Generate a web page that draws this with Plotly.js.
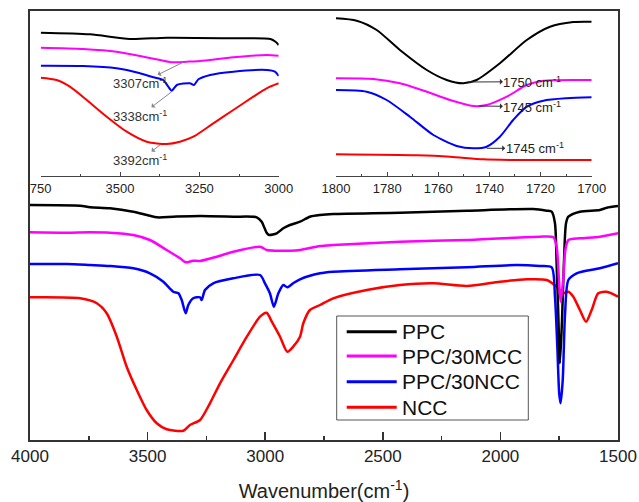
<!DOCTYPE html>
<html>
<head>
<meta charset="utf-8">
<script src="https://cdn.plot.ly/plotly-3.0.1.min.js"></script>
<style>html,body{margin:0;padding:0;background:#fff}#chart{width:639px;height:502px}</style>
</head>
<body>
<div id="chart"></div>
<script>
// ---------- Data (arbitrary transmittance units) ----------
const seriesNames = ["PPC", "PPC/30MCC", "PPC/30NCC", "NCC"];
const seriesColors = ["#000000", "#ff00ff", "#0000ff", "#ff0000"];

// Main panel, 4000-1500 cm-1
const ppcWave = [4000,3787,3745,3660,3561,3461,3391,3277,3136,3036,3015,2994,2983,2951,2923,2895,2852,2810,2767,2711,2427,2143,1860,1803,1782,1768,1761,1754,1747,1738,1730,1721,1711,1662,1577,1548,1500];
const ppcT    = [235,234.3,232.7,231.7,228.3,222.7,223.3,224,223.3,222.7,218.3,207.3,205,206.7,211.7,215,218.3,223.3,225,226,227.3,229.3,231,229.3,228.3,216.7,176.7,126.7,76.7,120,176.7,216.7,223.3,228.3,230,232.3,234];

const mccWave = [4000,3844,3745,3660,3561,3490,3419,3362,3338,3306,3277,3206,3136,3022,2994,2951,2895,2852,2767,2711,2427,2143,1832,1775,1761,1751,1744,1733,1724,1711,1662,1577,1500];
const mccT    = [207.7,207.3,207.7,207.3,205,200,190,181.7,177.7,179.3,179,183.3,188.3,193.3,190,189.3,189.3,190,194,195,198.3,200,203.3,202.7,193.3,160,138.3,160,190,200,201.7,203.3,206.7];

const nccCompWave = [4000,3844,3745,3660,3561,3490,3433,3391,3369,3355,3338,3327,3306,3277,3270,3256,3221,3136,3022,3001,2980,2963,2944,2923,2906,2881,2852,2767,2711,2427,2143,1931,1832,1782,1768,1758,1750,1744,1735,1725,1711,1676,1577,1500];
const nccCompT    = [176,176,175,174,171.7,166.7,158.3,148.3,146.7,140,126.7,135,141.7,142.7,140,150,156.7,161.7,165,156.7,146.7,133.3,146.7,155,152.7,156.7,160.7,166.7,168.3,170.7,172.7,175,174,172.7,143.3,93.3,46.7,36.7,60,126.7,160,166.7,171.7,176.7];

const nccWave = [4000,3787,3716,3674,3631,3589,3546,3504,3461,3419,3348,3320,3277,3235,3192,3135,3078,3022,2994,2972,2937,2906,2881,2852,2838,2810,2767,2711,2568,2427,2286,2143,2002,1888,1803,1761,1733,1711,1690,1662,1636,1612,1584,1548,1500];
const nccT    = [142.7,141.7,136.7,126.7,103.3,73.3,50,30,16.7,10.7,9.3,15,20,36.7,56.7,80,103.3,123.3,127.3,118.3,103.3,88.3,93.3,103.3,116.7,130,135,141.7,150,155,156.7,154,158.3,160.7,160,153.3,146.7,148.3,143.3,130,118.3,130,146.7,148.3,143.3];

// Inset 1, 3750-3000 cm-1
const in1PpcWave = [3750,3595,3469,3353,3143,3026,3010,3000];
const in1PpcT    = [143.3,141.7,137,138.3,137.7,137,134.3,131];
const in1MccWave = [3750,3616,3511,3437,3374,3337,3290,3248,3143,3038,3000];
const in1MccT    = [128.3,127,124.3,120,116,113.7,114.3,115,118.7,121,120.3];
const in1NcWave  = [3750,3616,3511,3437,3395,3364,3348,3337,3321,3280,3267,3253,3216,3143,3038,3012,3000];
const in1NcT     = [110.3,110,107.7,102.7,98.7,96,89.3,85.3,91,92.7,91,96.7,101,104.3,106,104.3,100];
const in1NccWave = [3750,3700,3658,3605,3542,3479,3416,3353,3311,3269,3206,3143,3080,3038,3000];
const in1NccT    = [98.3,96,89.3,76,59.3,44.3,34.3,32,34.3,39.3,52.7,66,79.3,87.7,92.7];
const in1TickVals = [3750,3500,3250,3000];
const in1TickText = ["750","3500","3250","3000"];

// Inset 2, 1800-1700 cm-1
const in2PpcWave = [1800,1791.9,1784.1,1775,1764.5,1756.7,1750.2,1745,1735.9,1725.4,1716.3,1707.2,1700];
const in2PpcT    = [157.7,155.3,146,126,106,96,92.7,96,112.7,136,149.3,154,154.3];
const in2MccWave = [1800,1785.4,1775,1764.5,1755.4,1746.3,1741.1,1733.2,1725.4,1718.9,1700];
const in2MccT    = [97.7,97,92.7,84.3,76,70,71,79.3,91,95.3,96];
const in2NcWave  = [1800,1788,1780.2,1771.1,1761.9,1752.8,1746.3,1741.1,1735.9,1730.7,1725.4,1718.9,1709.8,1700];
const in2NcT     = [86,84.3,76,59.3,41,30,27.7,29.3,39.3,56,69.3,75.3,77.7,78.7];
const in2NccWave = [1800,1768.4,1755.4,1742.4,1729.3,1700];
const in2NccT    = [21.7,20.7,19.3,16.7,16,16];

// Peak labels: text, point the arrow leaves from, label centre
const in1Labels = ["3307cm<sup>-1</sup>", "3338cm<sup>-1</sup>", "3392cm<sup>-1</sup>"];
const in1PeakW  = [3301, 3337, 3374];
const in1PeakT  = [113.7, 84.3, 31];
const in1LabelW = [3436, 3436, 3436];
const in1LabelT = [92.7, 60.3, 16];
const in2Labels = ["1750 cm<sup>-1</sup>", "1745 cm<sup>-1</sup>", "1745 cm<sup>-1</sup>"];
const in2PeakW  = [1748.5, 1744, 1741.1];
const in2PeakT  = [94, 70, 27.7];
const in2LabelW = [1723.2, 1723.2, 1722.3];
const in2LabelT = [94.3, 69.3, 27.7];

// ---------- Build ----------
const FONT = "Liberation Sans, Arial, sans-serif";
function tr(x, y, color, xa, ya, w) {
  return {x: x, y: y, type: "scatter", mode: "lines", xaxis: xa, yaxis: ya,
    line: {color: color, width: w, shape: "spline", smoothing: 0.7},
    showlegend: false, hoverinfo: "skip"};
}
const traces = [
  tr(nccWave, nccT, seriesColors[3], "x", "y", 2.5),
  tr(nccCompWave, nccCompT, seriesColors[2], "x", "y", 2.5),
  tr(ppcWave, ppcT, seriesColors[0], "x", "y", 2.5),
  tr(mccWave, mccT, seriesColors[1], "x", "y", 2.5),
  tr(in1PpcWave, in1PpcT, seriesColors[0], "x2", "y2", 2),
  tr(in1MccWave, in1MccT, seriesColors[1], "x2", "y2", 2),
  tr(in1NcWave, in1NcT, seriesColors[2], "x2", "y2", 2),
  tr(in1NccWave, in1NccT, seriesColors[3], "x2", "y2", 2),
  tr(in2PpcWave, in2PpcT, seriesColors[0], "x3", "y3", 2),
  tr(in2MccWave, in2MccT, seriesColors[1], "x3", "y3", 2),
  tr(in2NcWave, in2NcT, seriesColors[2], "x3", "y3", 2),
  tr(in2NccWave, in2NccT, seriesColors[3], "x3", "y3", 2)
];

// pixel helpers for decorations (plot area: x 30..618, y 11..440)
const PX = px => (px - 30) / 588;
const PY = py => (440 - py) / 429;

const annotations = [];
in1Labels.forEach((t, i) => {
  annotations.push({xref: "x2", yref: "y2", x: in1PeakW[i], y: in1PeakT[i],
    axref: "x2", ayref: "y2", ax: in1LabelW[i], ay: in1LabelT[i],
    text: t, showarrow: true, arrowside: "start", arrowhead: 2, arrowsize: 0.8, arrowwidth: 1,
    arrowcolor: "#888", standoff: 0, startstandoff: 0, borderpad: 0,
    font: {family: FONT, size: 13, color: "#333"}});
});
in2Labels.forEach((t, i) => {
  annotations.push({xref: "x3", yref: "y3", x: in2PeakW[i], y: in2PeakT[i],
    axref: "x3", ayref: "y3", ax: in2LabelW[i], ay: in2LabelT[i],
    text: t, showarrow: true, arrowside: "start", arrowhead: 2, arrowsize: 0.8, arrowwidth: 1,
    arrowcolor: "#333", standoff: 0, startstandoff: 0, borderpad: 0,
    font: {family: FONT, size: 13, color: "#222"}});
});

// manual legend
const shapes = [{type: "rect", xref: "paper", yref: "paper", x0: PX(336.7), x1: PX(528.3), y0: PY(420), y1: PY(316),
  line: {color: "#555", width: 1}, fillcolor: "#fff", layer: "above"}];
const legY = [331.7, 356, 381.7, 407.3];
seriesNames.forEach((n, i) => {
  shapes.push({type: "line", xref: "paper", yref: "paper", x0: PX(346.7), x1: PX(396.7), y0: PY(legY[i]), y1: PY(legY[i]),
    line: {color: seriesColors[i], width: 3}, layer: "above"});
  annotations.push({xref: "paper", yref: "paper", x: PX(400), y: PY(legY[i]), text: n, showarrow: false,
    xanchor: "left", yanchor: "middle", font: {family: FONT, size: 21, color: "#111"}});
});

const insetAxis = {
  showline: true, linecolor: "#444", linewidth: 1, ticks: "inside", ticklen: 4, tickwidth: 1, tickcolor: "#444",
  showgrid: false, zeroline: false, tickfont: {family: FONT, size: 13, color: "#222"}, fixedrange: true
};
const hiddenY = {range: [0, 165], visible: false, showgrid: false, zeroline: false, fixedrange: true};

const layout = {
  width: 639, height: 502,
  margin: {l: 30, r: 21, t: 11, b: 62},
  paper_bgcolor: "#ffffff", plot_bgcolor: "rgba(0,0,0,0)",
  showlegend: false,
  font: {family: FONT, color: "#222"},
  xaxis: {
    range: [4000, 1500], showline: true, mirror: true, linecolor: "#333", linewidth: 2,
    ticks: "inside", ticklen: 8, tickwidth: 1.5, tickcolor: "#333", tick0: 1500, dtick: 500,
    minor: {ticks: "inside", ticklen: 4, tickwidth: 1.5, tickcolor: "#333", dtick: 250},
    tickfont: {family: FONT, size: 17, color: "#222"},
    showgrid: false, zeroline: false,
    title: {text: "Wavenumber(cm<sup>-1</sup>)", font: {family: FONT, size: 20, color: "#222"}, standoff: 24}
  },
  yaxis: {range: [0, 429], showline: true, mirror: true, linecolor: "#333", linewidth: 2,
    ticks: "", showticklabels: false, showgrid: false, zeroline: false},
  xaxis2: Object.assign({}, insetAxis, {domain: [PX(40.7), PX(278.7)], anchor: "y2", range: [3750, 3000],
    tickmode: "array", tickvals: in1TickVals, ticktext: in1TickText,
    minor: {ticks: "inside", ticklen: 2.5, tickwidth: 1, tickcolor: "#444", tick0: 3000, dtick: 125}}),
  yaxis2: Object.assign({}, hiddenY, {domain: [PY(176), 1], anchor: "x2"}),
  xaxis3: Object.assign({}, insetAxis, {domain: [PX(336), PX(591.7)], anchor: "y3", range: [1800, 1700],
    tick0: 1700, dtick: 20,
    minor: {ticks: "inside", ticklen: 2.5, tickwidth: 1, tickcolor: "#444", dtick: 10}}),
  yaxis3: Object.assign({}, hiddenY, {domain: [PY(176), 1], anchor: "x3"}),
  annotations: annotations,
  shapes: shapes
};

Plotly.newPlot("chart", traces, layout, {staticPlot: true, displayModeBar: false});
</script>
</body>
</html>
